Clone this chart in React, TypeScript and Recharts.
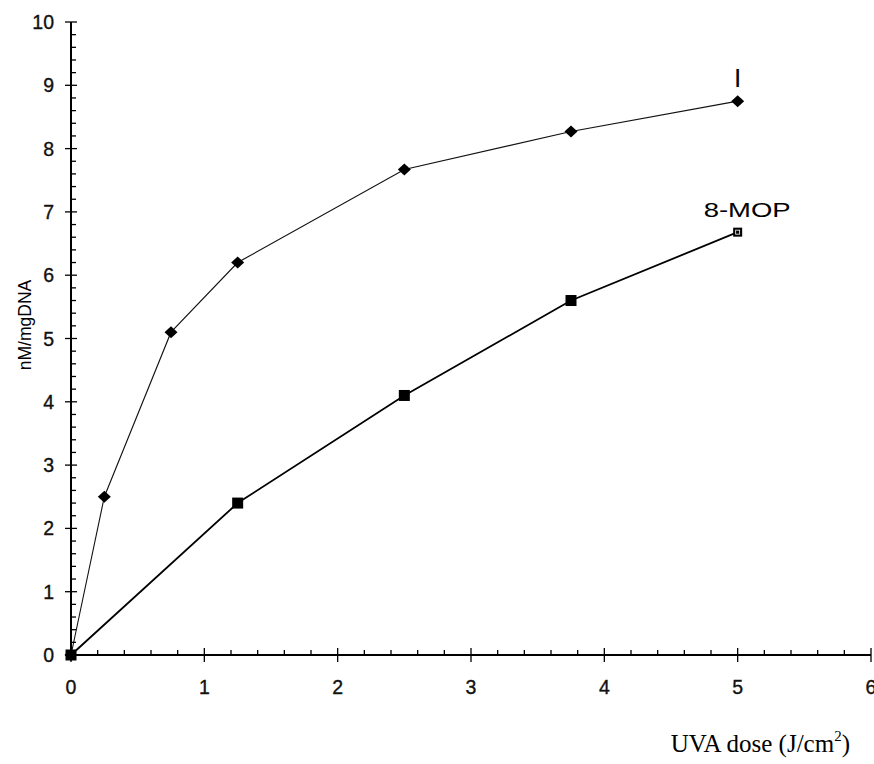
import React from 'react';
import { LineChart, Line, XAxis, YAxis } from 'recharts';

// Series I
const seriesIDose = [0, 0.25, 0.75, 1.25, 2.5, 3.75, 5];
const seriesIValues = [0, 2.5, 5.1, 6.2, 7.67, 8.27, 8.75];
// Series 8-MOP
const mopDose = [0, 1.25, 2.5, 3.75, 5];
const mopValues = [0, 2.4, 4.1, 5.6, 6.68];

const seriesNames = ['I', '8-MOP'];
const xMajorTicks = [0, 1, 2, 3, 4, 5, 6];
const yMajorTicks = [0, 1, 2, 3, 4, 5, 6, 7, 8, 9, 10];
const minorDivisions = 5;
const xAxisTitle = 'UVA dose (J/cm';
const yAxisTitle = 'nM/mgDNA';

const withMinors = (majors: number[]) => {
  const out: number[] = [];
  for (let i = 0; i < majors.length - 1; i++) {
    for (let j = 0; j < minorDivisions; j++) {
      out.push(majors[i] + ((majors[i + 1] - majors[i]) * j) / minorDivisions);
    }
  }
  out.push(majors[majors.length - 1]);
  return out;
};

const xTicks = withMinors(xMajorTicks);
const yTicks = withMinors(yMajorTicks);

const seriesIData = seriesIDose.map((x, i) => ({ x, y: seriesIValues[i] }));
const mopData = mopDose.map((x, i) => ({ x, y: mopValues[i] }));

const isMajor = (v: number) => Math.abs(v - Math.round(v)) < 1e-6;
const FONT = '"Liberation Sans", Arial, sans-serif';

const XTick = (props: any) => {
  const { x, y, payload } = props;
  const v = payload.value;
  if (isMajor(v)) {
    return (
      <g>
        <line x1={x} x2={x} y1={y - 7} y2={y + 7} stroke="#000" strokeWidth={1.3} />
        <text x={x} y={y + 39} textAnchor="middle" fontFamily={FONT} fontSize={19.5} fill="#111" stroke="#111" strokeWidth={0.35}>
          {Math.round(v)}
        </text>
      </g>
    );
  }
  return <line x1={x} x2={x} y1={y - 5} y2={y} stroke="#000" strokeWidth={1.3} />;
};

const YTick = (props: any) => {
  const { x, y, payload } = props;
  const v = payload.value;
  if (isMajor(v)) {
    return (
      <g>
        <line x1={x - 6} x2={x + 6} y1={y} y2={y} stroke="#000" strokeWidth={1.3} />
        <text x={x - 17} y={y + 7} textAnchor="end" fontFamily={FONT} fontSize={19.5} fill="#111" stroke="#111" strokeWidth={0.35}>
          {Math.round(v)}
        </text>
      </g>
    );
  }
  return <line x1={x} x2={x + 5} y1={y} y2={y} stroke="#000" strokeWidth={1.3} />;
};

const DiamondDot = (props: any) => {
  const { cx, cy, index } = props;
  const s = 6;
  return (
    <polygon
      key={`d${index}`}
      points={`${cx},${cy - s} ${cx + s + 0.5},${cy} ${cx},${cy + s} ${cx - s - 0.5},${cy}`}
      fill="#000"
    />
  );
};

const SquareDot = (props: any) => {
  const { cx, cy, index } = props;
  const s = index === mopData.length - 1 ? 4.5 : 5.5;
  return (
    <g key={`s${index}`}>
      <rect x={cx - s} y={cy - s} width={s * 2} height={s * 2} fill="#000" />
      {index === mopData.length - 1 && (
        <rect x={cx - 2} y={cy - 2} width={4} height={4} fill="none" stroke="#fff" strokeWidth={0.8} />
      )}
    </g>
  );
};

const LabelI = (props: any) => {
  const { x, y, index } = props;
  if (index !== seriesIData.length - 1) return null;
  return (
    <text key="lI" x={x} y={y - 14} textAnchor="middle" fontFamily={FONT} fontSize={26} fill="#000">
      {seriesNames[0]}
    </text>
  );
};

const LabelMop = (props: any) => {
  const { x, y, index } = props;
  if (index !== mopData.length - 1) return null;
  return (
    <text
      key="lM"
      x={x - 34}
      y={y - 15}
      textAnchor="start"
      fontFamily={FONT}
      fontSize={21}
      textLength={87}
      lengthAdjust="spacingAndGlyphs"
      fill="#000"
    >
      {seriesNames[1]}
    </text>
  );
};

const XTitle = (props: any) => {
  const vb = props.viewBox || { x: 71, y: 655, width: 800, height: 40 };
  return (
    <text
      x={vb.x + vb.width - 21}
      y={vb.y + 97}
      textAnchor="end"
      fontFamily='"Liberation Serif", "Times New Roman", serif'
      fontSize={25}
      fill="#000"
    >
      <tspan>{xAxisTitle}</tspan>
      <tspan dy={-11} fontSize={15}>2</tspan>
      <tspan dy={11}>)</tspan>
    </text>
  );
};

const YTitle = () => (
  <text
    x={25}
    y={325}
    transform="rotate(-90 25 325)"
    textAnchor="middle"
    dominantBaseline="central"
    fontFamily={FONT}
    fontSize={17.5}
    fill="#000"
  >
    {yAxisTitle}
  </text>
);

export default function App() {
  return (
    <div style={{ position: 'absolute', left: 0, top: 0, background: '#fff' }}>
      <LineChart width={874} height={764} margin={{ top: 22, right: 3, bottom: 69, left: 0 }}>
        <XAxis
          xAxisId="main"
          type="number"
          dataKey="x"
          domain={[0, 6]}
          ticks={xTicks}
          interval={0}
          tickSize={0}
          tickMargin={0}
          tickLine={false}
          tick={<XTick />}
          height={40}
          axisLine={{ stroke: '#000', strokeWidth: 2 }}
          label={<XTitle />}
        />
        <XAxis
          xAxisId="top"
          orientation="top"
          type="number"
          domain={[0, 6]}
          height={0}
          tick={false}
          tickLine={false}
          axisLine={{ stroke: '#000', strokeWidth: 2 }}
        />
        <YAxis
          yAxisId="main"
          type="number"
          domain={[0, 10]}
          ticks={yTicks}
          interval={0}
          tickSize={0}
          tickMargin={0}
          tickLine={false}
          tick={<YTick />}
          width={71}
          axisLine={{ stroke: '#000', strokeWidth: 2 }}
          label={<YTitle />}
        />
        <YAxis
          yAxisId="right"
          orientation="right"
          type="number"
          domain={[0, 10]}
          width={0}
          tick={false}
          tickLine={false}
          axisLine={{ stroke: '#000', strokeWidth: 2 }}
        />
        <Line
          xAxisId="main"
          yAxisId="main"
          data={seriesIData}
          dataKey="y"
          type="linear"
          stroke="#111"
          strokeWidth={1.1}
          dot={<DiamondDot />}
          activeDot={false}
          label={<LabelI />}
          isAnimationActive={false}
        />
        <Line
          xAxisId="main"
          yAxisId="main"
          data={mopData}
          dataKey="y"
          type="linear"
          stroke="#000"
          strokeWidth={1.8}
          dot={<SquareDot />}
          activeDot={false}
          label={<LabelMop />}
          isAnimationActive={false}
        />
      </LineChart>
    </div>
  );
}
